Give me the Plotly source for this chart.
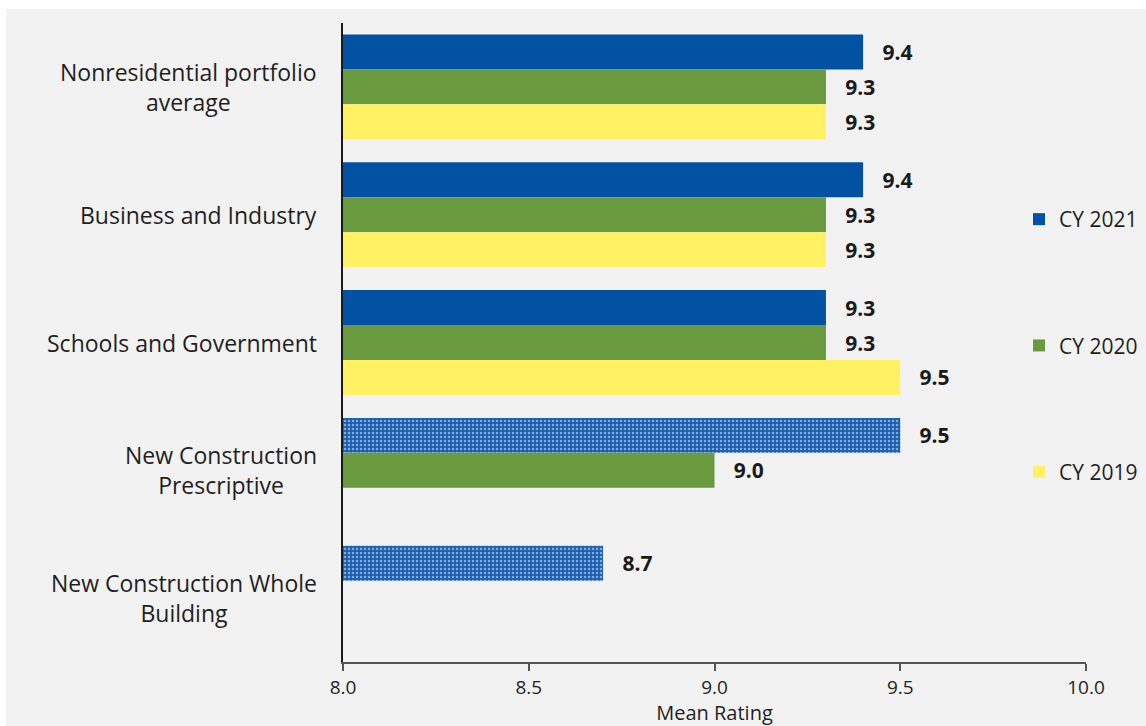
import plotly.graph_objects as go

# Program categories, top to bottom
categories = [
    "Nonresidential portfolio<br>average",
    "Business and Industry",
    "Schools and Government",
    "New Construction<br>Prescriptive",
    "New Construction Whole<br>Building",
]

# Mean satisfaction ratings by program year (None = not offered)
cy2021 = [9.4, 9.4, 9.3, 9.5, 8.7]
cy2020 = [9.3, 9.3, 9.3, 9.0, None]
cy2019 = [9.3, 9.3, 9.5, None, None]

# New Construction programs are shown with a dotted fill in CY 2021
cy2021_patterns = ["", "", "", ".", "."]

x_ticks = [8.0, 8.5, 9.0, 9.5, 10.0]

FONT = "Open Sans"
BLUE = "#0152a3"
GREEN = "#699a3f"
YELLOW = "#fff162"
TEXT = "#1f1f1f"

W, H = 1146, 726
L, R, T, B = 343, 60, 23, 64

fig = go.Figure()

series = [
    ("CY 2021", cy2021, BLUE),
    ("CY 2020", cy2020, GREEN),
    ("CY 2019", cy2019, YELLOW),
]

for name, values, color in series:
    marker = dict(color=color, line=dict(width=0))
    if name == "CY 2021":
        marker["pattern"] = dict(
            shape=cy2021_patterns,
            fgcolor="#eef2f8",
            bgcolor="#1a5fb0",
            size=4,
            solidity=0.3,
        )
    fig.add_trace(
        go.Bar(
            name=name,
            y=categories,
            x=values,
            orientation="h",
            marker=marker,
            texttemplate="\u00a0\u00a0\u00a0%{x:.1f}",
            textposition="outside",
            constraintext="none",
            cliponaxis=False,
            outsidetextfont=dict(family=FONT, size=21, color="#1a1a1a", weight="bold"),
            legendgroup=name,
            hoverinfo="skip",
        )
    )

# Centered, right-aligned category labels
for cat in categories:
    fig.add_annotation(
        x=0, xref="paper", xanchor="right", xshift=-24,
        y=cat, yref="y", yanchor="middle",
        text=cat, align="center", showarrow=False,
        font=dict(family=FONT, size=23, color=TEXT),
    )

# Grey chart background inset from the white page edge
fig.add_shape(
    type="rect", xref="paper", yref="paper", layer="below",
    x0=(6 - L) / (W - L - R), x1=(W + 20 - L) / (W - L - R),
    y0=-0.3, y1=(H - B - 9) / (H - T - B),
    fillcolor="#f2f2f2", line=dict(width=0),
)

fig.update_layout(
    width=W, height=H,
    margin=dict(l=L, r=R, t=T, b=B, autoexpand=False),
    paper_bgcolor="white",
    plot_bgcolor="rgba(0,0,0,0)",
    barmode="group",
    bargap=0.18,
    bargroupgap=0,
    font=dict(family=FONT, size=20, color=TEXT),
    showlegend=True,
    legend=dict(
        x=(1019 - L) / (W - L - R), xanchor="left",
        y=(H - B - 199) / (H - T - B), yanchor="top",
        bgcolor="rgba(0,0,0,0)",
        font=dict(family=FONT, size=21, color=TEXT),
        tracegroupgap=96,
        traceorder="grouped",
        itemclick=False,
    ),
    xaxis=dict(
        range=[8.0, 10.0],
        tickvals=x_ticks,
        ticktext=[f"{v:.1f}" for v in x_ticks],
        showgrid=False, zeroline=False,
        showline=True, linecolor="#555555", linewidth=2,
        ticks="outside", ticklen=7, tickwidth=2, tickcolor="#555555",
        tickfont=dict(family=FONT, size=19, color=TEXT),
        title=dict(text="Mean Rating", standoff=5,
                   font=dict(family=FONT, size=20, color=TEXT)),
        automargin=False,
    ),
    yaxis=dict(
        autorange="reversed",
        showticklabels=False,
        showgrid=False, zeroline=False,
        showline=True, linecolor="#1a1a1a", linewidth=2,
        ticks="",
        automargin=False,
    ),
)

fig.write_html("out.html")
